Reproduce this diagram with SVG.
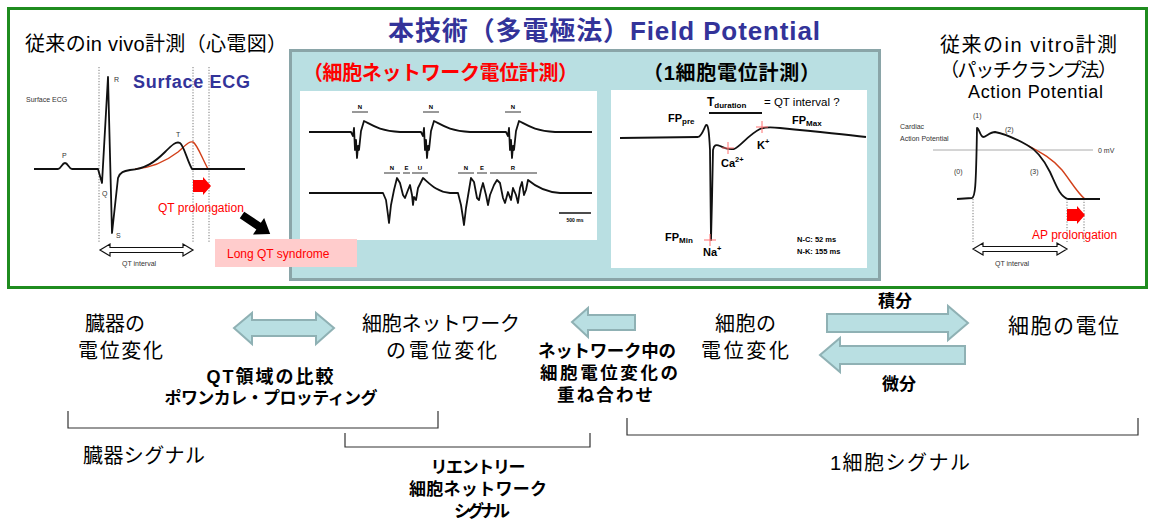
<svg xmlns="http://www.w3.org/2000/svg" width="1150" height="522" viewBox="0 0 1150 522">
<defs>
<style>
.t{font-family:"Liberation Sans","Noto Sans CJK JP",sans-serif;fill:#000}
.j{font-family:"Liberation Sans","Noto Sans CJK JP",sans-serif;fill:#000}
.b{font-weight:bold}
.sm{font-size:7px;fill:#333}
.red{fill:#ff0000}
.blue{fill:#333399}
.tr{fill:none;stroke:#111;stroke-width:1.8;stroke-linejoin:round}
.dot{stroke:#555;stroke-width:0.8;stroke-dasharray:1.2 1.6}
.ta{fill:#b9dfe2;stroke:#8fb1b4;stroke-width:2}
.br{fill:none;stroke:#333;stroke-width:1.2}
.cross{stroke:#ff7070;stroke-width:1}
.dbl{fill:#fff;stroke:#111;stroke-width:1.2}
</style>
</defs>
<rect width="1150" height="522" fill="#fff"/>

<g id="frame">
<rect x="8.5" y="8.5" width="1138" height="279" fill="none" stroke="#1f8c1f" stroke-width="3"/>
</g>

<g id="title">
<text class="j b blue" x="388" y="40" font-size="26" textLength="432">本技術（多電極法）Field Potential</text>
</g>

<g id="panel">
<rect x="290.5" y="50.5" width="589" height="229" fill="#b9dfe2" stroke="#8aa5a8" stroke-width="3"/>
<text class="j b red" x="303" y="80" font-size="20" textLength="275">（細胞ネットワーク電位計測）</text>
<text class="j b" x="643" y="80" font-size="20" textLength="177">（1細胞電位計測）</text>
</g>

<g id="network-trace">
<rect x="300" y="91" width="297" height="149" fill="#fff"/>
<path class="tr" stroke-width="2.2" d="M309,132 L351,132 L353,136 L354,128 L355,150 L356,140 L357,158 L358,146 L359,150 L361,131 L364,121 C372,125 380,131 400,132 L421,132 L423,136 L424,128 L425,150 L426,140 L427,158 L428,146 L429,150 L431,131 L434,121 C442,125 450,131 470,132 L506,132 L508,136 L509,128 L510,150 L511,140 L512,158 L513,146 L514,150 L516,131 L519,121 C527,125 535,131 555,132 L592,132"/>
<path class="tr" stroke-width="2.2" d="M309,193 L383,193 L386,200 L388,215 L389,223 L391,205 L394,190 L397,178 L400,183 L403,195 L405,198 L408,190 L410,185 L412,195 L413,205 L414,197 L416,200 L418,188 L423,178 C430,184 437,192 450,193 L458,193 L461,205 L463,218 L464,225 L466,208 L469,190 L471,178 L474,182 L477,198 L479,200 L481,190 L483,183 L486,195 L488,205 L490,195 L494,185 L497,180 L500,183 L503,198 L505,203 L508,192 L511,200 L513,188 L516,195 L518,203 L520,188 L522,182 L524,195 L526,190 L528,180 C535,186 545,192 560,193 L592,193"/>
<g stroke="#333" stroke-width="1">
<line x1="352" y1="112" x2="368" y2="112"/><line x1="423" y1="112" x2="439" y2="112"/><line x1="505" y1="112" x2="521" y2="112"/>
<line x1="384" y1="173" x2="400" y2="173"/><line x1="403" y1="173" x2="410" y2="173"/><line x1="412" y1="173" x2="428" y2="173"/>
<line x1="458" y1="173" x2="474" y2="173"/><line x1="477" y1="173" x2="487" y2="173"/><line x1="490" y1="173" x2="537" y2="173"/>
</g>
<line x1="559" y1="213" x2="591" y2="213" stroke="#111" stroke-width="1.5"/>
<g class="t b" font-size="6" text-anchor="middle">
<text x="360" y="109">N</text><text x="431" y="109">N</text><text x="513" y="109">N</text>
<text x="392" y="170">N</text><text x="406.5" y="170">E</text><text x="420" y="170">U</text>
<text x="466" y="170">N</text><text x="482" y="170">E</text><text x="513" y="170">R</text>
<text x="575" y="222" font-size="5">500 ms</text>
</g>
</g>

<g id="single-cell-trace">
<rect x="611" y="90" width="256" height="178" fill="#fff"/>
<path class="tr" stroke-width="1.6" d="M620,138 L698,137 C702,136 704,128 706,125 C708,124 709,130 710,150 L711,240 L712,200 L713,150 C714,145 716,144 720,146 C724,148 728,150 734,149 C740,147 748,135 760,129 C764,127 770,127 780,128 C810,131 840,134 866,137"/>
<g class="cross">
<line x1="704" y1="240" x2="716" y2="240"/><line x1="710" y1="234" x2="710" y2="246"/>
<line x1="722" y1="148" x2="734" y2="148"/><line x1="728" y1="142" x2="728" y2="154"/>
<line x1="756" y1="127" x2="768" y2="127"/><line x1="762" y1="121" x2="762" y2="133"/>
</g>
<line x1="709" y1="113" x2="762" y2="113" stroke="#111" stroke-width="2"/>
<text class="t b" x="707" y="106" font-size="12">T<tspan font-size="8" dy="2">duration</tspan></text>
<text class="t" x="764" y="106" font-size="11.5">= QT  interval ?</text>
<text class="t b" x="668" y="122" font-size="11">FP<tspan font-size="8" dy="2">pre</tspan></text>
<text class="t b" x="792" y="124" font-size="11">FP<tspan font-size="8" dy="2">Max</tspan></text>
<text class="t b" x="721" y="167" font-size="11">Ca<tspan font-size="7.5" dy="-5">2+</tspan></text>
<text class="t b" x="757" y="149" font-size="11">K<tspan font-size="7.5" dy="-5">+</tspan></text>
<text class="t b" x="665" y="241" font-size="11">FP<tspan font-size="8" dy="2">Min</tspan></text>
<text class="t b" x="703" y="256" font-size="11">Na<tspan font-size="7.5" dy="-5">+</tspan></text>
<text class="t b" x="797" y="242" font-size="7.5">N-C:   52 ms</text>
<text class="t b" x="797" y="254" font-size="7.5">N-K: 155 ms</text>
</g>

<g id="invivo">
<text class="j" x="25" y="51" font-size="20" textLength="262">従来のin vivo計測（心電図）</text>
<text class="t b blue" x="133" y="88" font-size="18" textLength="117">Surface ECG</text>
<text class="t sm" x="26" y="102">Surface ECG</text>
<g class="dot"><line x1="99" y1="67" x2="99" y2="242"/><line x1="193" y1="67" x2="193" y2="242"/><line x1="209" y1="67" x2="209" y2="242"/></g>
<path fill="none" stroke="#d2401a" stroke-width="1.4" d="M135,169 C150,168 165,162 178,152 C186,145 189,141 193,142 C197,144 202,158 208,169"/>
<path class="tr" stroke-width="1.6" d="M34,169 L58,169 C61,169 62,163 65,163 C68,163 69,169 72,169 L98,169 L102,183 L108,77 L112,233 L118,178 C120,172 124,171 130,170 C145,169 155,162 165,152 C172,145 176,141 180,143 C184,146 187,160 192,169 L245,169"/>
<g class="t sm"><text x="62" y="158">P</text><text x="114" y="82">R</text><text x="102" y="196">Q</text><text x="116" y="238">S</text><text x="176" y="137">T</text><text x="122" y="266">QT interval</text></g>
<polygon class="red" points="193,180 203,180 203,177 211,186 203,195 203,192 193,192"/>
<text class="t red" x="158" y="212" font-size="12">QT prolongation</text>
<polygon class="dbl" points="100,250 110,244 110,247.5 183,247.5 183,244 193,250 183,256 183,252.5 110,252.5 110,256"/>
<polygon fill="#000" transform="translate(242,215) rotate(34)" points="0,-4 20,-4 20,-10 34,0 20,10 20,4 0,4"/>
<rect x="215" y="239" width="142" height="28" fill="#ffcccc"/>
<text class="t red" x="227" y="258" font-size="12">Long QT syndrome</text>
</g>

<g id="invitro">
<text class="j" x="940" y="52" font-size="20" textLength="177">従来のin vitro計測</text>
<text class="j" x="940" y="77" font-size="19" textLength="177">（パッチクランプ法）</text>
<text class="t" x="968" y="98" font-size="18" fill="#3333aa" textLength="135">Action Potential</text>
<line x1="933" y1="150" x2="1093" y2="150" stroke="#aaa" stroke-width="1"/>
<g class="t sm"><text x="900" y="129">Cardiac</text><text x="900" y="141">Action Potential</text><text x="1098" y="153">0 mV</text>
<text x="973" y="118">(1)</text><text x="1005" y="132">(2)</text><text x="954" y="174">(0)</text><text x="1030" y="174">(3)</text><text x="995" y="266">QT interval</text></g>
<g class="dot"><line x1="973" y1="199" x2="973" y2="242"/><line x1="1067" y1="199" x2="1067" y2="242"/><line x1="1084" y1="199" x2="1084" y2="242"/></g>
<path fill="none" stroke="#d2401a" stroke-width="1.4" d="M1027,145 C1040,152 1052,158 1062,170 C1070,180 1078,194 1085,199"/>
<path class="tr" stroke-width="1.6" d="M957,199 L972,198 C975,197 976,190 977,128 C979,128 980,136 983,137 C986,137 990,132 995,132 C1005,134 1018,140 1027,145 C1037,150 1044,160 1050,172 C1056,185 1060,197 1068,199 L1100,199"/>
<polygon class="red" points="1067,209 1077,209 1077,206 1085,215 1077,224 1077,221 1067,221"/>
<text class="t red" x="1032" y="239" font-size="12">AP prolongation</text>
<polygon class="dbl" points="973,249 983,243 983,246.5 1057,246.5 1057,243 1067,249 1057,255 1057,251.5 983,251.5 983,255"/>
</g>

<g id="connectors">
<polygon class="ta" points="234,328 252,313 252,320 316,320 316,313 334,328 316,344 316,336 252,336 252,344"/>
<polygon class="ta" points="572,322 588,308 588,315 635,315 635,330 588,330 588,337"/>
<polygon class="ta" points="827,314 948,314 948,306 968,323 948,340 948,332 827,332"/>
<polygon class="ta" points="820,355 840,338 840,346 965,346 965,364 840,364 840,372"/>
<path class="br" d="M68,411 L68,428 L438,428 L438,411"/>
<path class="br" d="M345,433 L345,447 L590,447 L590,433"/>
<path class="br" d="M627,418 L627,435 L1138,435 L1138,418"/>
</g>

<g id="node-organ">
<text class="j" x="85" y="331" font-size="20">臓器の</text>
<text class="j" x="78" y="358" font-size="20" textLength="85">電位変化</text>
</g>
<g id="node-network">
<text class="j" x="362" y="331" font-size="20" textLength="158">細胞ネットワーク</text>
<text class="j" x="386" y="358" font-size="20" textLength="111">の電位変化</text>
</g>
<g id="label-qt" text-anchor="middle">
<text class="j b" x="270" y="383" font-size="18" textLength="127">QT領域の比較</text>
<text class="j b" x="271" y="404" font-size="17" textLength="213">ポワンカレ・プロッティング</text>
</g>
<g id="label-superpose" text-anchor="middle">
<text class="j b" x="607" y="357" font-size="17.5" textLength="138">ネットワーク中の</text>
<text class="j b" x="609" y="379" font-size="17.5" textLength="138">細胞電位変化の</text>
<text class="j b" x="605" y="401" font-size="17.5" textLength="96">重ね合わせ</text>
</g>
<g id="node-cell">
<text class="j" x="715" y="331" font-size="20" textLength="61">細胞の</text>
<text class="j" x="701" y="358" font-size="20" textLength="88">電位変化</text>
</g>
<g id="node-cellpot">
<text class="j" x="1008" y="333" font-size="21" textLength="111">細胞の電位</text>
</g>
<g id="label-int-diff" text-anchor="middle">
<text class="j b" x="895" y="307" font-size="17">積分</text>
<text class="j b" x="899" y="390" font-size="17">微分</text>
</g>
<g id="signals">
<text class="j" x="83" y="463" font-size="20" textLength="122">臓器シグナル</text>
<g text-anchor="middle">
<text class="j b" x="478" y="473" font-size="17" textLength="95">リエントリー</text>
<text class="j b" x="478" y="495" font-size="17" textLength="138">細胞ネットワーク</text>
<text class="j b" x="482" y="517" font-size="17" textLength="56">シグナル</text>
</g>
<text class="j" x="830" y="470" font-size="20" textLength="140">1細胞シグナル</text>
</g>
</svg>
